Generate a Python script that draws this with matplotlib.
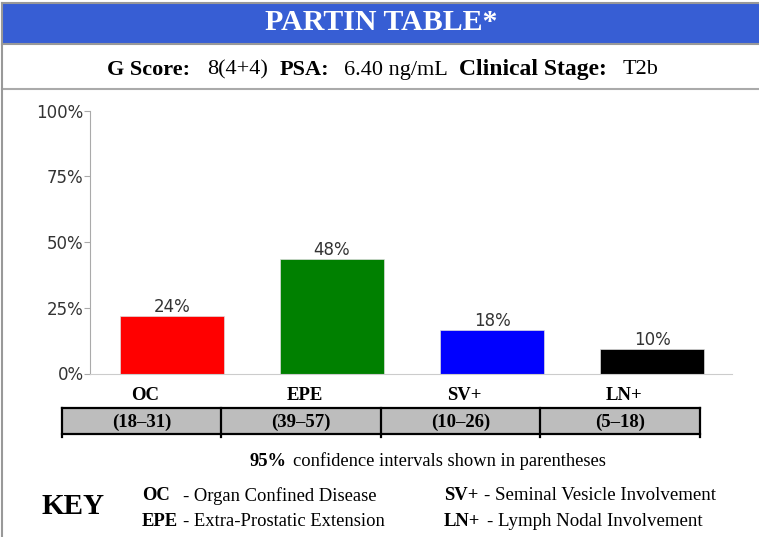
import matplotlib
matplotlib.use("Agg")
import matplotlib.pyplot as plt
from matplotlib.patches import Rectangle
from matplotlib.lines import Line2D

# data
categories = ["OC", "EPE", "SV+", "LN+"]
bar_heights = [22.0, 43.5, 16.6, 9.3]
value_labels = ["24%", "48%", "18%", "10%"]
ci_labels = ["(18\u201331)", "(39\u201357)", "(10\u201326)", "(5\u201318)"]
bar_colors = ["#ff0000", "#008000", "#0000ff", "#000000"]
y_ticks = [0, 25, 50, 75, 100]
y_ticklabels = ["0%", "25%", "50%", "75%", "100%"]

W, H = 759, 537
SERIF = "Liberation Serif"
SANS = "DejaVu Sans"

fig = plt.figure(figsize=(W / 100, H / 100), dpi=100)


def fx(px):
    return px / W


def fy(py):
    return 1 - py / H


def ftext(px, py, s, **kw):
    kw.setdefault("family", SERIF)
    kw.setdefault("va", "center")
    fig.text(fx(px), fy(py), s, **kw)


def hline(y, x0, x1, color="#999999", lw=1.5):
    fig.add_artist(Line2D([fx(x0), fx(x1)], [fy(y), fy(y)], color=color, lw=lw,
                          transform=fig.transFigure))


def vline(x, y0, y1, color="#999999", lw=1.5):
    fig.add_artist(Line2D([fx(x), fx(x)], [fy(y0), fy(y1)], color=color, lw=lw,
                          transform=fig.transFigure))


# header band
fig.add_artist(Rectangle((fx(2), fy(44)), fx(W), 40 / H, transform=fig.transFigure,
                         facecolor="#375ed4", edgecolor="none"))
hline(3, 2, W)
hline(44, 2, W)
hline(89, 2, W, color="#aaaaaa")
vline(2, 3, H)
ftext(381, 23, "PARTIN TABLE*", color="white", fontsize=21.5, weight="bold", ha="center")

# sub header
row = [(107, "G Score:", "bold", 16), (207, "8(4+4)", "normal", 16), (280, "PSA:", "bold", 16),
       (344, "6.40 ng/mL", "normal", 16), (459, "Clinical Stage:", "bold", 17),
       (623, "T2b", "normal", 16)]
for x, s, w, fs in row:
    ftext(x, 70, s, fontsize=fs, weight=w, ha="left")

# bar chart
ax = fig.add_axes([fx(90), fy(373.5), fx(732 - 90), 262.7 / H])
x = list(range(len(categories)))
ax.bar(x, bar_heights, width=0.65, color=bar_colors, edgecolor="#dddddd", linewidth=0.5)
for xi, h, lab in zip(x, bar_heights, value_labels):
    ax.text(xi, h, lab, ha="center", va="bottom", fontsize=12, family=SANS, color="#333333")
ax.set_ylim(0, 100)
ax.set_xlim(-0.5125, 3.5)
ax.set_yticks(y_ticks)
ax.set_yticklabels(y_ticklabels, family=SANS, fontsize=12, color="#333333")
ax.set_xticks([])
for s in ["top", "right"]:
    ax.spines[s].set_visible(False)
ax.spines["left"].set_color("#aaaaaa")
ax.spines["bottom"].set_color("#cccccc")
ax.tick_params(axis="y", length=4, color="#aaaaaa", pad=0.5)

# confidence interval table
cells = [62, 221, 381, 540, 700]
fig.add_artist(Rectangle((fx(62), fy(434)), fx(700 - 62), 26 / H, transform=fig.transFigure,
                         facecolor="#bdbdbd", edgecolor="none"))
hline(408, 62, 700, color="black", lw=1.6)
hline(434, 62, 700, color="black", lw=1.6)
for cx in cells:
    vline(cx, 408, 437, color="black", lw=1.6)
for i, (cat, ci) in enumerate(zip(categories, ci_labels)):
    mid = (cells[i] + cells[i + 1]) / 2
    ftext(mid + 4, 396, cat, fontsize=13.5, weight="bold", ha="center")
    ftext(mid, 422, ci, fontsize=13.5, weight="bold", ha="center")

ftext(250, 461, "95%", fontsize=13.3, weight="bold", ha="left")
ftext(293, 461, "confidence intervals shown in parentheses", fontsize=13.3, ha="left")

# key
ftext(42, 507, "KEY", fontsize=21, weight="bold", ha="left")
key_left = [("OC", "- Organ Confined Disease", 183), ("EPE", "- Extra-Prostatic Extension", 183)]
key_right = [("SV+", "- Seminal Vesicle Involvement", 484), ("LN+", "- Lymph Nodal Involvement", 487)]
for j, (a, b, bx) in enumerate(key_left):
    y = 496 + 25 * j
    ftext(142, y, a, fontsize=13.4, weight="bold", ha="left")
    ftext(bx, y, b, fontsize=13.4, ha="left")
for j, (a, b, bx) in enumerate(key_right):
    y = 496 + 25 * j
    ftext(444, y, a, fontsize=13.4, weight="bold", ha="left")
    ftext(bx, y, b, fontsize=13.6, ha="left")

fig.savefig("out.png", dpi=100)
